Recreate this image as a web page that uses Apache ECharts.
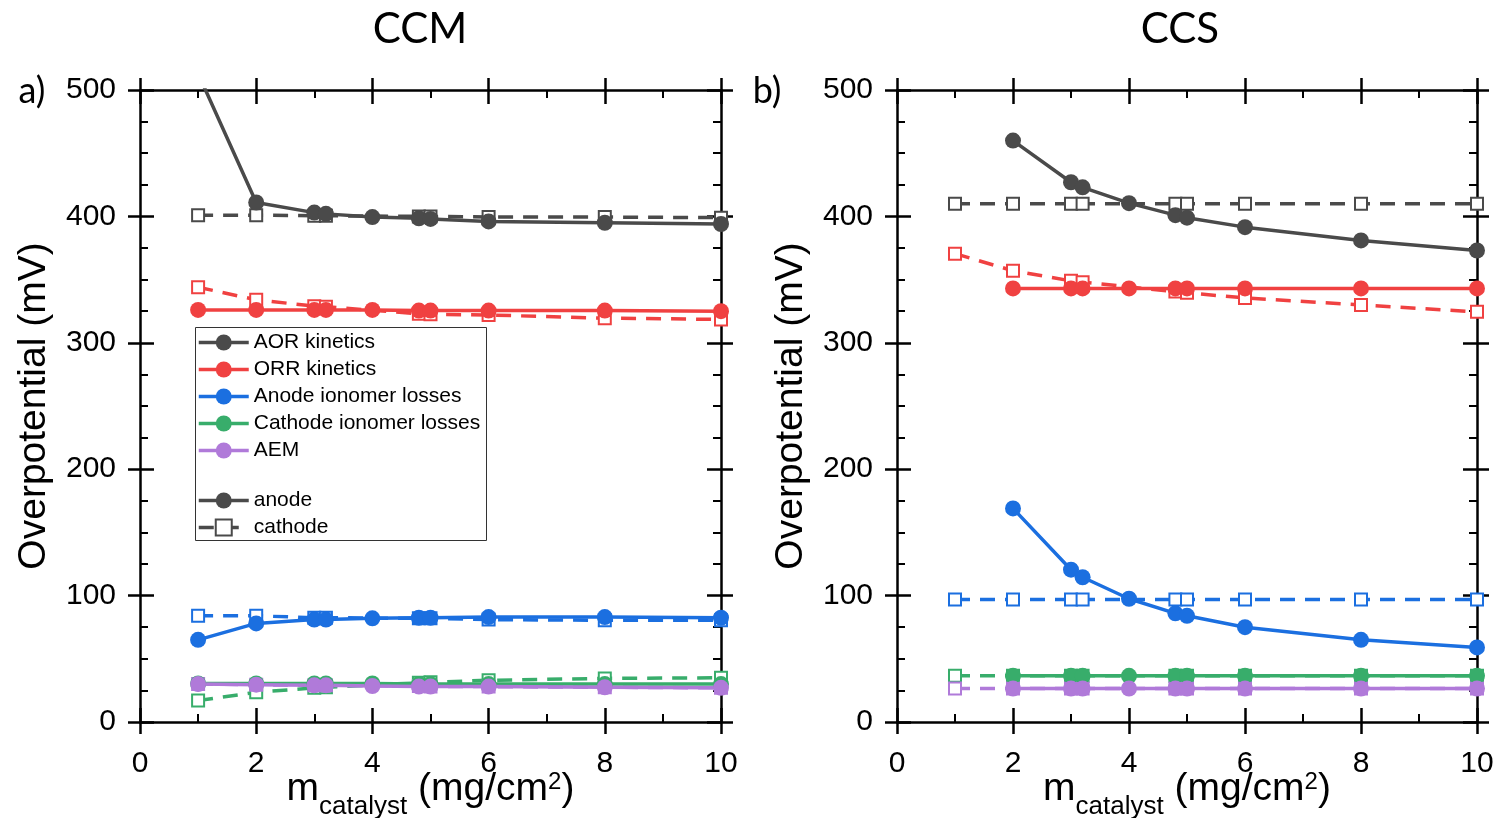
<!DOCTYPE html>
<html>
<head>
<meta charset="utf-8">
<script src="https://cdn.jsdelivr.net/npm/echarts/dist/echarts.min.js"></script>
<style>
  html, body { margin: 0; padding: 0; background: #fff; }
  #chart { width: 1496px; height: 818px; }
</style>
</head>
<body>
<div id="chart"></div>
<script>
// Catalyst loading (mg/cm2) at which each overpotential contribution was evaluated
const xCcmAnode = [1, 2, 3, 3.2, 4, 4.8, 5, 6, 8, 10];
const xCcsAnode = [2, 3, 3.2, 4, 4.8, 5, 6, 8, 10];
const xCathode  = [1, 2, 3, 3.2, 4.8, 5, 6, 8, 10];

// CCM, anode (solid lines, filled circles), mV
const ccmAnodeAor     = [513, 411, 403, 402, 399.5, 398.5, 398, 396, 395, 394];
const ccmAnodeOrr     = [326, 326, 326, 326, 326, 325.5, 325.5, 325.5, 325.5, 325];
const ccmAnodeIonA    = [65, 78, 81, 81, 82, 82.5, 82.5, 83, 83, 82.5];
const ccmAnodeIonC    = [30.5, 30.5, 30.5, 30.5, 30.5, 30, 30, 30, 30, 30];
const ccmAnodeAem     = [30, 29.5, 29, 29, 28.5, 28, 28, 28, 27.5, 27];

// CCM, cathode (dashed lines, open squares), mV
const ccmCathodeAor   = [401, 401, 400.5, 400.5, 400, 400, 399.5, 399.5, 399];
const ccmCathodeOrr   = [344, 334, 329, 328.5, 323, 322.5, 322, 319.5, 318.5];
const ccmCathodeIonA  = [84, 84, 82.5, 82.5, 82, 82, 81, 80.5, 80.5];
const ccmCathodeIonC  = [17, 23.5, 27, 27.5, 31, 31.5, 33, 34.5, 35];
const ccmCathodeAem   = [30, 29.5, 29, 29, 28.5, 28, 28, 27.5, 27];

// CCS, anode, mV
const ccsAnodeAor     = [460, 427, 423, 410.5, 401, 399, 391.5, 381, 373];
const ccsAnodeOrr     = [343, 343, 343, 343, 343, 343, 343, 343, 343];
const ccsAnodeIonA    = [169, 120.5, 114.5, 97.5, 86, 84, 75, 65, 59];
const ccsAnodeIonC    = [36.5, 36.5, 36.5, 36.5, 36.5, 36.5, 36.5, 36.5, 36.5];
const ccsAnodeAem     = [26.5, 26.5, 26.5, 26.5, 26.5, 26.5, 26.5, 26.5, 26.5];

// CCS, cathode, mV
const ccsCathodeAor   = [410, 410, 410, 410, 410, 410, 410, 410, 410];
const ccsCathodeOrr   = [370.5, 357, 349, 348, 340.5, 339.5, 335.5, 330, 324.5];
const ccsCathodeIonA  = [97, 97, 97, 97, 97, 97, 97, 97, 97];
const ccsCathodeIonC  = [36.5, 36.5, 36.5, 36.5, 36.5, 36.5, 36.5, 36.5, 36.5];
const ccsCathodeAem   = [26.5, 26.5, 26.5, 26.5, 26.5, 26.5, 26.5, 26.5, 26.5];

const contributionNames = ['AOR kinetics', 'ORR kinetics', 'Anode ionomer losses', 'Cathode ionomer losses', 'AEM'];
const electrodeNames = ['anode', 'cathode'];
const panelTitles = ['CCM', 'CCS'];
const panelLetters = ['a)', 'b)'];
const yAxisTitle = 'Overpotential (mV)';

const colors = ['#4a4a4a', '#f04141', '#1b6fe0', '#38ad6b', '#b07ad9'];

const panels = [
  { left: 140, width: 581,
    anodeX: xCcmAnode, anode: [ccmAnodeAor, ccmAnodeOrr, ccmAnodeIonA, ccmAnodeIonC, ccmAnodeAem],
    cathode: [ccmCathodeAor, ccmCathodeOrr, ccmCathodeIonA, ccmCathodeIonC, ccmCathodeAem] },
  { left: 897, width: 580,
    anodeX: xCcsAnode, anode: [ccsAnodeAor, ccsAnodeOrr, ccsAnodeIonA, ccsAnodeIonC, ccsAnodeAem],
    cathode: [ccsCathodeAor, ccsCathodeOrr, ccsCathodeIonA, ccsCathodeIonC, ccsCathodeAem] }
];

const NUM_FONT = 'Liberation Sans';
const TXT_FONT = 'Lato';
const TOP = 90, HEIGHT = 632;
const black = '#000';
const LINE_W = 3.5;
const DASH = [15, 10];

function pairs(xs, ys) { return xs.map((x, i) => [x, ys[i]]); }

// Two axes per side of the frame: an inner one (ticks + minor ticks pointing in)
// and an outer one (major ticks pointing out), so major ticks cross the frame.
function frameAxes(g, dim) {
  const isX = dim === 'x';
  const range = isX ? { min: 0, max: 10, interval: 2 } : { min: 0, max: 500, interval: 100 };
  const minorSplit = isX ? 2 : 4;
  const sides = isX ? ['bottom', 'top'] : ['left', 'right'];
  const out = [];
  sides.forEach((pos, s) => {
    const main = s === 0;
    out.push(Object.assign({
      type: 'value', gridIndex: g, position: pos,
      axisLine: { show: true, onZero: false, lineStyle: { color: black, width: 2.5 } },
      axisTick: { show: true, inside: true, length: 14, lineStyle: { color: black, width: 2.5 } },
      minorTick: { show: true, splitNumber: minorSplit, length: 8, lineStyle: { color: black, width: 2 } },
      splitLine: { show: false }, minorSplitLine: { show: false },
      axisLabel: main ? {
        show: true, color: black, fontFamily: NUM_FONT, fontSize: 30,
        margin: isX ? 27 : 24, showMinLabel: true, showMaxLabel: true, hideOverlap: false
      } : { show: false }
    }, range));
    out.push(Object.assign({
      type: 'value', gridIndex: g, position: pos,
      axisLine: { show: false, onZero: false },
      axisTick: { show: true, inside: false, length: 12, lineStyle: { color: black, width: 2.5 } },
      minorTick: { show: false },
      splitLine: { show: false }, minorSplitLine: { show: false },
      axisLabel: { show: false }
    }, range));
  });
  if (isX) {
    // m with subscript "catalyst", unit with superscript 2
    Object.assign(out[0], {
      name: '{a|m}{b|catalyst}{a| (mg/cm}{c|2}{a|)}',
      nameLocation: 'middle', nameGap: 36, nameMoveOverlap: false,
      nameTextStyle: {
        rich: {
          a: { fontFamily: NUM_FONT, fontSize: 39, color: black, lineHeight: 62, verticalAlign: 'middle' },
          b: { fontFamily: NUM_FONT, fontSize: 26, color: black, lineHeight: 12, verticalAlign: 'bottom' },
          c: { fontFamily: NUM_FONT, fontSize: 24, color: black, lineHeight: 24, verticalAlign: 'top', padding: [12, 0, 0, 0] }
        }
      }
    });
  } else {
    Object.assign(out[0], {
      name: yAxisTitle, nameLocation: 'middle', nameGap: 86, nameRotate: 90, nameMoveOverlap: false,
      nameTextStyle: { fontFamily: NUM_FONT, fontSize: 39, color: black }
    });
  }
  return out;
}

const grids = [], xAxes = [], yAxes = [], series = [];
panels.forEach((p, g) => {
  grids.push({ left: p.left, top: TOP, width: p.width, height: HEIGHT, containLabel: false, outerBoundsMode: 'none' });
  xAxes.push(...frameAxes(g, 'x'));
  yAxes.push(...frameAxes(g, 'y'));
  const xi = 4 * g, yi = 4 * g;
  // cathode (dashed, open squares) first so anode markers sit on top
  p.cathode.forEach((vals, k) => {
    series.push({
      name: contributionNames[k] + ' (cathode)', type: 'line', xAxisIndex: xi, yAxisIndex: yi,
      data: pairs(xCathode, vals), clip: true, z: 2,
      symbol: 'rect', symbolSize: 12,
      itemStyle: { color: '#fff', borderColor: colors[k], borderWidth: 2 },
      lineStyle: { color: colors[k], width: LINE_W, type: DASH },
      emphasis: { disabled: true }
    });
  });
  p.anode.forEach((vals, k) => {
    series.push({
      name: contributionNames[k], type: 'line', xAxisIndex: xi, yAxisIndex: yi,
      data: pairs(p.anodeX, vals), clip: true, z: 3,
      symbol: 'circle', symbolSize: 16,
      itemStyle: { color: colors[k] },
      lineStyle: { color: colors[k], width: LINE_W },
      emphasis: { disabled: true }
    });
  });
});

// Legend-only entries for the line style key
series.push({
  name: electrodeNames[0], type: 'line', xAxisIndex: 0, yAxisIndex: 0, data: [],
  symbol: 'circle', symbolSize: 16, itemStyle: { color: colors[0] }, lineStyle: { color: colors[0], width: LINE_W }
});
series.push({
  name: electrodeNames[1], type: 'line', xAxisIndex: 0, yAxisIndex: 0, data: [],
  symbol: 'rect', symbolSize: 12,
  itemStyle: { color: '#fff', borderColor: colors[0], borderWidth: 2 },
  lineStyle: { color: colors[0], width: LINE_W, type: DASH }
});

const legendCommon = {
  orient: 'vertical', left: 197, padding: 0, itemWidth: 50, itemHeight: 20, itemGap: 6,
  selectedMode: false, z: 10,
  lineStyle: { width: 'inherit' },
  itemStyle: { borderWidth: 'inherit' },
  textStyle: { fontFamily: NUM_FONT, fontSize: 21, color: black, lineHeight: 20, padding: [0, 0, 0, 0] }
};

const option = {
  animation: false,
  backgroundColor: '#fff',
  grid: grids,
  xAxis: xAxes,
  yAxis: yAxes,
  legend: [
    Object.assign({ top: 332, data: contributionNames }, legendCommon),
    Object.assign({ top: 490, data: electrodeNames }, legendCommon)
  ],
  graphic: [
    { type: 'rect', z: 5, shape: { x: 195.5, y: 327.5, width: 291, height: 213 },
      style: { fill: '#fff', stroke: '#333', lineWidth: 1 } },
    { type: 'text', x: 420, y: 29, style: { text: panelTitles[0], font: '42px ' + TXT_FONT, fill: black, textAlign: 'center', textVerticalAlign: 'middle' } },
    { type: 'text', x: 1180, y: 29, style: { text: panelTitles[1], font: '42px ' + TXT_FONT, fill: black, textAlign: 'center', textVerticalAlign: 'middle' } },
    { type: 'text', x: 32, y: 91, style: { text: panelLetters[0], font: '36px ' + TXT_FONT, fill: black, textAlign: 'center', textVerticalAlign: 'middle' } },
    { type: 'text', x: 767, y: 91, style: { text: panelLetters[1], font: '36px ' + TXT_FONT, fill: black, textAlign: 'center', textVerticalAlign: 'middle' } }
  ],
  series: series
};

const chart = echarts.init(document.getElementById('chart'), null, { renderer: 'canvas' });
chart.setOption(option);
</script>
</body>
</html>
